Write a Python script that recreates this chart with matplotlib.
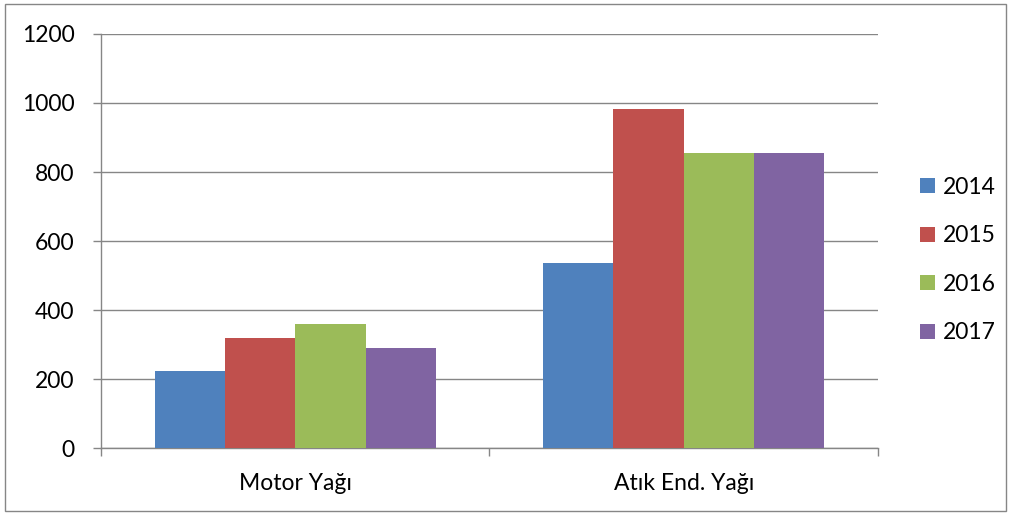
import matplotlib.pyplot as plt
import numpy as np
from matplotlib.patches import Rectangle

categories = ["Motor Yağı", "Atık End. Yağı"]
years = ["2014", "2015", "2016", "2017"]
values = {
    "2014": [222, 535],
    "2015": [319, 983],
    "2016": [360, 855],
    "2017": [291, 854],
}
colors = ["#4F81BD", "#C0504D", "#9BBB59", "#8064A2"]
yticks = [0, 200, 400, 600, 800, 1000, 1200]

plt.rcParams['font.family'] = ['Lato', 'DejaVu Sans']

fig = plt.figure(figsize=(10.11, 5.15), dpi=100)
ax = fig.add_axes([0.0999, 0.130, 0.7685, 0.804])

# outer chart border
fig.patches.append(Rectangle((0.005, 0.008), 0.99, 0.984, transform=fig.transFigure,
                             fill=False, edgecolor="#868686", linewidth=1))

x = np.arange(len(categories))
width = 0.181
for i, (yr, c) in enumerate(zip(years, colors)):
    ax.bar(x + (i - 1.5) * width, values[yr], width, color=c, label=yr,
           edgecolor="none", zorder=3)

ax.set_xlim(-0.5, 1.5)
ax.set_ylim(0, 1200)
ax.set_yticks(yticks)
ax.grid(axis='y', color="#868686", linewidth=1, zorder=0)

for s in ["top", "right"]:
    ax.spines[s].set_visible(False)
for s in ["left", "bottom"]:
    ax.spines[s].set_color("#868686")
    ax.spines[s].set_linewidth(1)

ax.set_xticks([-0.5, 0.5, 1.5])
ax.set_xticklabels([])
ax.set_xticks(x, minor=True)
ax.set_xticklabels(categories, minor=True)
ax.tick_params(axis='x', which='major', length=6, color="#868686", width=1)
ax.tick_params(axis='x', which='minor', length=0, pad=18, labelsize=16.5)
ax.tick_params(axis='y', length=6, color="#868686", width=1, pad=13, labelsize=16.5)

fig.legend(loc='center left', bbox_to_anchor=(0.910, 0.495), frameon=False,
           fontsize=16.5, handlelength=0.65, handleheight=0.65, handletextpad=0.35,
           labelspacing=1.2, borderaxespad=0, borderpad=0)

fig.savefig("out.png", dpi=100)
